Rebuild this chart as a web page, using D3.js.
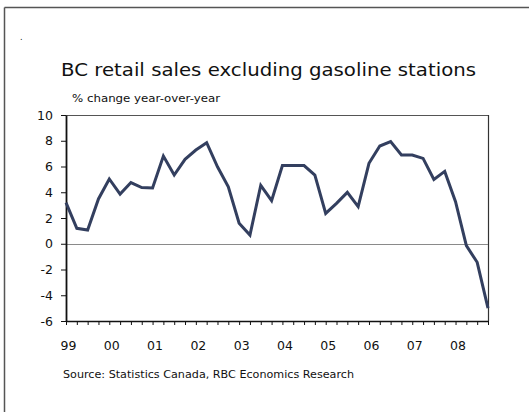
<!DOCTYPE html>
<html><head><meta charset="utf-8">
<script src="https://cdn.jsdelivr.net/npm/d3@7"></script>
<style>
html,body{margin:0;padding:0;background:#fff;}
svg{display:block;}
text{font-family:"DejaVu Sans",Verdana,sans-serif;fill:#111;}
</style></head>
<body>
<svg id="c" width="529" height="412"></svg>
<script>
const title = "BC retail sales excluding gasoline stations";
const subtitle = "% change year-over-year";
const source = "Source: Statistics Canada, RBC Economics Research";
const years = ["99","00","01","02","03","04","05","06","07","08"];
const quarterNames = ["Q1","Q2","Q3","Q4"];
const yTicks = [-6,-4,-2,0,2,4,6,8,10];
const values = [3.19,1.2,1.07,3.48,5.03,3.86,4.75,4.36,4.33,6.81,
  5.34,6.56,7.28,7.85,5.98,4.43,1.59,0.68,4.54,3.35,
  6.07,6.07,6.07,5.34,2.36,3.14,3.99,2.88,6.25,7.59,
  7.93,6.89,6.89,6.63,5.0,5.62,3.27,-0.15,-1.44,-5.0];

const categories = [];
years.forEach(y => quarterNames.forEach(q => categories.push(y + " " + q)));
const data = categories.map((c, i) => ({c, v: values[i]}));

const svg = d3.select("#c");
const L = 66, R = 488, T = 115, B = 321;

// outer frame (top and left edges visible)
svg.append("line").attr("x1",4.5).attr("x2",529).attr("y1",7.5).attr("y2",7.5).attr("stroke","#555").attr("stroke-width",1.5);
svg.append("line").attr("x1",4.5).attr("x2",4.5).attr("y1",7.5).attr("y2",412).attr("stroke","#555").attr("stroke-width",1.5);
svg.append("text").attr("x",20).attr("y",40).attr("font-size",8).text(".");

const x = d3.scalePoint().domain(categories).range([L, R]);
const y = d3.scaleLinear().domain([-6, 10]).range([B, T]);

// title
svg.append("text").attr("x",61).attr("y",76).attr("font-size",18.5)
  .attr("textLength",415).attr("lengthAdjust","spacingAndGlyphs").text(title);
svg.append("text").attr("x",72).attr("y",102).attr("font-size",10.5)
  .attr("textLength",148).attr("lengthAdjust","spacingAndGlyphs").attr("fill","#222").text(subtitle);

// plot border top & right
svg.append("line").attr("x1",L).attr("x2",R+0.5).attr("y1",T+0.5).attr("y2",T+0.5).attr("stroke","#555").attr("stroke-width",1);
svg.append("line").attr("x1",R+0.5).attr("x2",R+0.5).attr("y1",T).attr("y2",B).attr("stroke","#333").attr("stroke-width",1.2);

// zero line
svg.append("line").attr("x1",L).attr("x2",R).attr("y1",Math.round(y(0))+0.5).attr("y2",Math.round(y(0))+0.5)
  .attr("stroke","#8a8a8a").attr("stroke-width",1);

// y axis
const ya = svg.append("g").attr("transform",`translate(${L},0)`)
  .call(d3.axisLeft(y).tickValues(yTicks).tickSize(5).tickSizeOuter(0).tickPadding(8).tickFormat(d => String(d)));
ya.select(".domain").attr("stroke","#111").attr("stroke-width",1.8);
ya.selectAll(".tick line").attr("stroke","#111").attr("stroke-width",1);
ya.selectAll(".tick text").attr("font-size",12.5).attr("font-family","DejaVu Sans, sans-serif").attr("fill","#111");

// x axis
const xa = svg.append("g").attr("transform",`translate(0,${B})`)
  .call(d3.axisBottom(x).tickSize(4).tickSizeOuter(0).tickPadding(16)
    .tickFormat(d => d.endsWith("Q1") ? d.split(" ")[0] : ""));
xa.select(".domain").attr("stroke","#111").attr("stroke-width",1.5);
xa.selectAll(".tick line").attr("stroke","#111").attr("stroke-width",1);
xa.selectAll(".tick text").attr("font-size",12.5).attr("font-family","DejaVu Sans, sans-serif").attr("fill","#111").attr("dx",2);

// data line
svg.append("path").datum(data)
  .attr("fill","none").attr("stroke","#333f5f").attr("stroke-width",3).attr("stroke-linejoin","miter")
  .attr("d", d3.line().x(d => x(d.c)).y(d => y(d.v)));

// source
svg.append("text").attr("x",63).attr("y",378).attr("font-size",10)
  .attr("textLength",291).attr("lengthAdjust","spacingAndGlyphs").attr("fill","#222").text(source);
</script>
</body></html>
